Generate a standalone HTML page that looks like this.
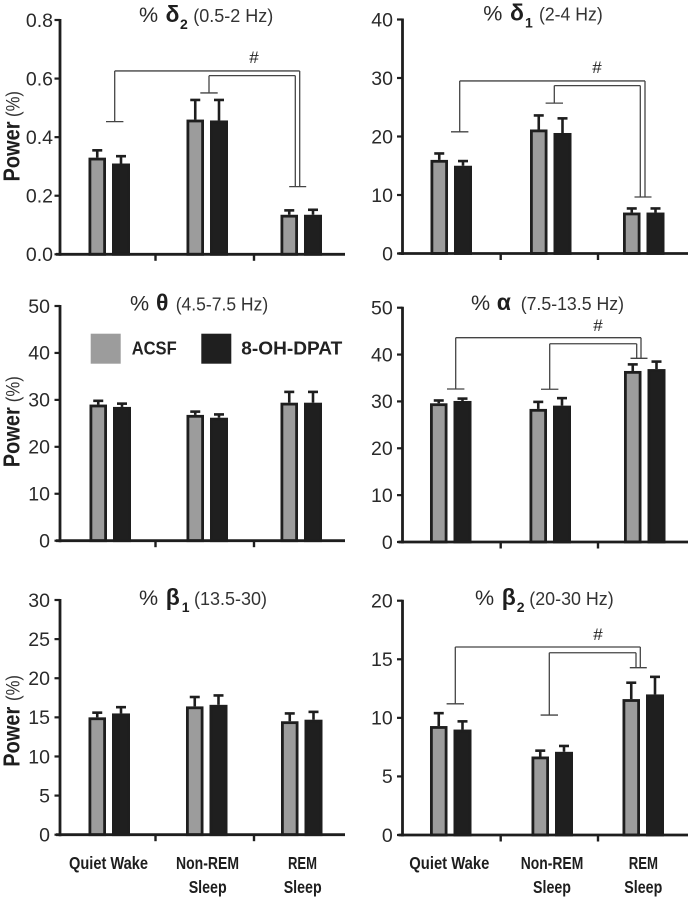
<!DOCTYPE html>
<html lang="en">
<head>
<meta charset="utf-8">
<title>EEG band power by sleep state</title>
<style>
html,body{margin:0;padding:0;background:#fff;}
svg{display:block;font-family:"Liberation Sans",sans-serif;filter:blur(0.35px);}
</style>
</head>
<body>
<svg id="figure" width="690" height="900" viewBox="0 0 690 900" xmlns="http://www.w3.org/2000/svg">
  <g>
    <rect x="90.7" y="333.7" width="30" height="30" fill="#9c9c9c"/>
    <text x="131.7" y="354.5" font-size="18.5" font-weight="700" fill="#222" textLength="45" lengthAdjust="spacingAndGlyphs">ACSF</text>
    <rect x="201.3" y="333.7" width="30" height="30" fill="#1f1f1f"/>
    <text x="241.3" y="354.5" font-size="18.5" font-weight="700" fill="#222" textLength="101" lengthAdjust="spacingAndGlyphs">8-OH-DPAT</text>
  </g>
</svg>
<script>
// ----- Data -----
const categories = ["Quiet Wake", "Non-REM Sleep", "REM Sleep"];
const seriesNames = ["ACSF", "8-OH-DPAT"];

const delta2Acsf = [0.33, 0.46, 0.135];
const delta2Dpat = [0.31, 0.457, 0.135];
const delta2AcsfErr = [0.025, 0.067, 0.015];
const delta2DpatErr = [0.025, 0.07, 0.017];
const delta2Ticks = [0, 0.2, 0.4, 0.6, 0.8];

const delta1Acsf = [16, 21.2, 7];
const delta1Dpat = [15, 20.6, 7];
const delta1AcsfErr = [1.1, 2.4, 0.7];
const delta1DpatErr = [0.8, 2.5, 0.7];
const delta1Ticks = [0, 10, 20, 30, 40];

const thetaAcsf = [29, 26.8, 29.4];
const thetaDpat = [28.5, 26.2, 29.4];
const thetaAcsfErr = [0.8, 0.7, 2.3];
const thetaDpatErr = [0.7, 0.7, 2.3];
const thetaTicks = [0, 10, 20, 30, 40, 50];

const alphaAcsf = [29.6, 28.4, 36.5];
const alphaDpat = [30.1, 29.1, 36.9];
const alphaAcsfErr = [0.6, 1.5, 1.4];
const alphaDpatErr = [0.5, 1.6, 1.6];
const alphaTicks = [0, 10, 20, 30, 40, 50];

const beta1Acsf = [15, 16.4, 14.5];
const beta1Dpat = [15.5, 16.6, 14.7];
const beta1AcsfErr = [0.6, 1.2, 1];
const beta1DpatErr = [0.8, 1.2, 1];
const beta1Ticks = [0, 5, 10, 15, 20, 25, 30];

const beta2Acsf = [9.3, 6.7, 11.6];
const beta2Dpat = [9, 7.1, 12];
const beta2AcsfErr = [1.1, 0.5, 1.4];
const beta2DpatErr = [0.7, 0.5, 1.5];
const beta2Ticks = [0, 5, 10, 15, 20];

// ----- Panel definitions -----
const panels = [
  { id: "delta-2", acsf: delta2Acsf, dpat: delta2Dpat, acsfErr: delta2AcsfErr, dpatErr: delta2DpatErr, ticks: delta2Ticks, decimals: 1,
    axisX: 60, y0: 254.3, yTop: 20, endX: 345, labelRight: 53, xTicks: [155.5, 254], centres: [109, 207, 301],
    power: [151.5, 104],
    title: { base: 22, pct: 139, sym: "δ", symX: 165.5, sub: "2", subX: 180, range: "(0.5-2 Hz)", rangeX: 193.3, rangeW: 80 },
    bracket: { hashX: 254, hashY: 57, leftX: 114.7, rightX: 299.7, top: 0.626, leftFoot: 0.453, rightFoot: 0.231,
               innerLeftX: 209, innerRightX: 295.3, innerTop: 0.61, innerFoot: 0.551 } },
  { id: "delta-1", acsf: delta1Acsf, dpat: delta1Dpat, acsfErr: delta1AcsfErr, dpatErr: delta1DpatErr, ticks: delta1Ticks, decimals: 0,
    axisX: 402.5, y0: 253.5, yTop: 19.5, endX: 688, labelRight: 393, xTicks: [500.7, 598], centres: [451, 550.5, 643.5],
    title: { base: 20.7, pct: 483.3, sym: "δ", symX: 510, sub: "1", subX: 525, range: "(2-4 Hz)", rangeX: 539, rangeW: 63.7 },
    bracket: { hashX: 597, hashY: 67, leftX: 459.7, rightX: 645, top: 29.5, leftFoot: 20.8, rightFoot: 9.66,
               innerLeftX: 554.3, innerRightX: 640.3, innerTop: 28.7, innerFoot: 25.7 } },
  { id: "theta", acsf: thetaAcsf, dpat: thetaDpat, acsfErr: thetaAcsfErr, dpatErr: thetaDpatErr, ticks: thetaTicks, decimals: 0,
    axisX: 60, y0: 540.7, yTop: 306, endX: 345, labelRight: 50, xTicks: [155.5, 254], centres: [110, 207, 301],
    power: [437.2, 389.2],
    title: { base: 310.3, pct: 130, sym: "θ", symX: 156, sub: "", subX: 0, range: "(4.5-7.5 Hz)", rangeX: 175.7, rangeW: 92.5 } },
  { id: "alpha", acsf: alphaAcsf, dpat: alphaDpat, acsfErr: alphaAcsfErr, dpatErr: alphaDpatErr, ticks: alphaTicks, decimals: 0,
    axisX: 402.5, y0: 542, yTop: 307.7, endX: 688, labelRight: 392.7, xTicks: [500.7, 598], centres: [450.5, 550, 644.5],
    title: { base: 310, pct: 471, sym: "α", symX: 496.7, sub: "", subX: 0, range: "(7.5-13.5 Hz)", rangeX: 520.7, rangeW: 103.3 },
    bracket: { hashX: 598, hashY: 325, leftX: 455.7, rightX: 641, top: 43.6, leftFoot: 32.65, rightFoot: 39.2,
               innerLeftX: 549.7, innerRightX: 636.7, innerTop: 42.3, innerFoot: 32.6 } },
  { id: "beta-1", acsf: beta1Acsf, dpat: beta1Dpat, acsfErr: beta1AcsfErr, dpatErr: beta1DpatErr, ticks: beta1Ticks, decimals: 0,
    axisX: 60, y0: 834.7, yTop: 600, endX: 345, labelRight: 50, xTicks: [155.5, 254], centres: [109, 206.5, 301.5],
    power: [736.7, 688],
    title: { base: 605, pct: 139, sym: "β", symX: 165.7, sub: "1", subX: 181.7, range: "(13.5-30)", rangeX: 194, rangeW: 73 },
    labels: { quiet: [69, 79], nonRem: [176, 63], sleep1: [188.7, 38], rem: [288, 29], sleep2: [283.7, 38] } },
  { id: "beta-2", acsf: beta2Acsf, dpat: beta2Dpat, acsfErr: beta2AcsfErr, dpatErr: beta2DpatErr, ticks: beta2Ticks, decimals: 0,
    axisX: 402.5, y0: 835, yTop: 600.7, endX: 688, labelRight: 392.7, xTicks: [500.7, 598], centres: [450.5, 552, 643],
    title: { base: 605, pct: 475, sym: "β", symX: 501.7, sub: "2", subX: 516.7, range: "(20-30 Hz)", rangeX: 529.3, rangeW: 84.4 },
    bracket: { hashX: 598, hashY: 634, leftX: 455.3, rightX: 640.3, top: 16.05, leftFoot: 11.2, rightFoot: 14.28,
               innerLeftX: 549.3, innerRightX: 636, innerTop: 15.56, innerFoot: 10.24 },
    labels: { quiet: [409.3, 80], nonRem: [520.7, 62.6], sleep1: [533, 38], rem: [628.7, 29.3], sleep2: [624.3, 38] } }
];

// ----- Drawing -----
const NS = "http://www.w3.org/2000/svg";
const INK = "#1e1e1e";
const GREY = "#9c9c9c";
const BLACK = "#1f1f1f";
const BRACKET = "#444";
const BAR_STROKE = 2.8;
const figure = document.getElementById("figure");

function make(tag, parent, props, text) {
  const el = document.createElementNS(NS, tag);
  for (const key in props) el.setAttribute(key, props[key]);
  if (text !== undefined) el.textContent = text;
  parent.appendChild(el);
  return el;
}

function drawLine(parent, x1, y1, x2, y2, stroke, width) {
  return make("line", parent, { x1: x1, y1: y1, x2: x2, y2: y2, stroke: stroke, "stroke-width": width });
}

function drawBar(parent, left, width, yScale, value, err, fill, name) {
  const centre = left + width / 2;
  const top = yScale(value);
  const errTop = yScale(value + err);
  const base = yScale(0);

  const stem = drawLine(parent, centre, top, centre, errTop, INK, 2.6);
  
  

  const cap = drawLine(parent, centre - 5, errTop, centre + 5, errTop, INK, 2.6);
  
  

  const bar = make("rect", parent, {
    x: left + BAR_STROKE / 2, y: top + BAR_STROKE / 2, width: width - BAR_STROKE,
    height: Math.max(0, base - top - BAR_STROKE / 2),
    fill: fill, stroke: INK, "stroke-width": BAR_STROKE
  });
  
  
}

function drawBracket(parent, spec, yScale) {
  const outerFootRight = yScale(spec.rightFoot);
  const pieces = [
    [spec.leftX, yScale(spec.leftFoot), spec.leftX, yScale(spec.top)],
    [spec.leftX, yScale(spec.top), spec.rightX, yScale(spec.top)],
    [spec.rightX, yScale(spec.top), spec.rightX, outerFootRight],
    [spec.leftX - 8.7, yScale(spec.leftFoot), spec.leftX + 8.7, yScale(spec.leftFoot)],
    [spec.rightX - 10.5, outerFootRight, spec.rightX + 6.5, outerFootRight],
    [spec.innerLeftX, yScale(spec.innerFoot), spec.innerLeftX, yScale(spec.innerTop)],
    [spec.innerLeftX, yScale(spec.innerTop), spec.innerRightX, yScale(spec.innerTop)],
    [spec.innerRightX, yScale(spec.innerTop), spec.innerRightX, outerFootRight],
    [spec.innerLeftX - 8.7, yScale(spec.innerFoot), spec.innerLeftX + 8.7, yScale(spec.innerFoot)]
  ];
  const group = make("g", parent, {});
  
  
  pieces.forEach(function (p) {
    const seg = drawLine(group, p[0], p[1], p[2], p[3], BRACKET, 1.3);
    
    
  });
  const hash = make("text", group, { x: spec.hashX, y: spec.hashY + 6, "font-size": 17, fill: "#222", "text-anchor": "middle" }, "#");
  
  
}

function drawCategoryLabel(parent, text, spec, y) {
  const label = make("text", parent, {
    x: spec[0], y: y, "font-size": 17.5, "font-weight": 700, fill: INK,
    textLength: spec[1], lengthAdjust: "spacingAndGlyphs"
  }, text);
  
  
}

function drawPanel(panel) {
  const group = make("g", figure, {});
  
  

  const maxTick = panel.ticks[panel.ticks.length - 1];
  const yScale = function (v) { return panel.y0 - (v / maxTick) * (panel.y0 - panel.yTop); };

  // bars
  categories.forEach(function (cat, i) {
    const c = panel.centres[i];
    const slug = cat.toLowerCase().replace(/[^a-z]+/g, '-');
    drawBar(group, c - 20.5, 17.5, yScale, panel.acsf[i], panel.acsfErr[i], GREY, 'bar-acsf-' + slug);
    drawBar(group, c + 3, 18, yScale, panel.dpat[i], panel.dpatErr[i], BLACK, 'bar-dpat-' + slug);
  });

  // y axis
  const yAxis = drawLine(group, panel.axisX, panel.y0 + 1.5, panel.axisX, panel.yTop - 1, INK, 2.8);
  
  

  panel.ticks.forEach(function (t) {
    const y = yScale(t);
    const tick = drawLine(group, panel.axisX - 5.5, y, panel.axisX, y, INK, 2.2);
    
    

    const label = make("text", group, {
      x: panel.labelRight, y: y + 6.8, "font-size": 19.5, fill: "#2a2a2a", "text-anchor": "end"
    }, t.toFixed(panel.decimals));
    
    
  });

  // x axis
  const xAxis = drawLine(group, panel.axisX - 4, panel.y0, panel.endX, panel.y0, INK, 2.8);
  
  

  panel.xTicks.forEach(function (x) {
    const tick = drawLine(group, x, panel.y0, x, panel.y0 + 6.5, INK, 2.4);
    
    
  });

  // title
  const t = panel.title;
  const pct = make("text", group, { x: t.pct, y: t.base, "font-size": 21.5, fill: "#2a2a2a" }, "%");
  
  

  const sym = make("text", group, { x: t.symX, y: t.base, "font-size": 23, "font-weight": 700, fill: "#1e1e1e" }, t.sym);
  
  

  if (t.sub) {
    const sub = make("text", group, { x: t.subX, y: t.base + 7, "font-size": 14, "font-weight": 700, fill: "#1e1e1e" }, t.sub);
    
    
  }

  const range = make("text", group, {
    x: t.rangeX, y: t.base, "font-size": 18, fill: "#333",
    textLength: t.rangeW, lengthAdjust: "spacingAndGlyphs"
  }, t.range);
  
  

  // y axis title
  if (panel.power) {
    const power = make("text", group, {
      x: 0, y: 0, "font-size": 23, "font-weight": 700, fill: "#1e1e1e", "text-anchor": "middle",
      textLength: 60, lengthAdjust: "spacingAndGlyphs",
      transform: "translate(19.5 " + panel.power[0] + ") rotate(-90)"
    }, "Power");
    
    

    const unit = make("text", group, {
      x: 0, y: 0, "font-size": 19, fill: "#333", "text-anchor": "middle",
      textLength: 26, lengthAdjust: "spacingAndGlyphs",
      transform: "translate(19.5 " + panel.power[1] + ") rotate(-90)"
    }, "(%)");
    
    
  }

  // brackets
  if (panel.bracket) drawBracket(group, panel.bracket, yScale);

  // category labels
  if (panel.labels) {
    const nameParts = categories.map(function (c) { return c.split(" "); });
    drawCategoryLabel(group, categories[0], panel.labels.quiet, 869);
    drawCategoryLabel(group, nameParts[1][0], panel.labels.nonRem, 869);
    drawCategoryLabel(group, nameParts[1][1], panel.labels.sleep1, 893);
    drawCategoryLabel(group, nameParts[2][0], panel.labels.rem, 869);
    drawCategoryLabel(group, nameParts[2][1], panel.labels.sleep2, 893);
  }
}

panels.forEach(drawPanel);
</script>
</body>
</html>
